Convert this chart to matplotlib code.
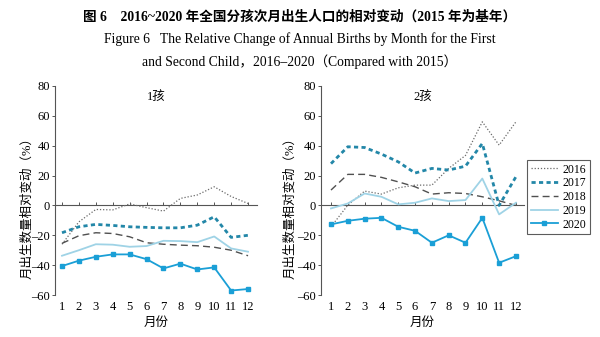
import matplotlib
matplotlib.use("Agg")
import matplotlib.pyplot as plt
from matplotlib.lines import Line2D

plt.rcParams['font.family'] = ['Liberation Serif', 'Noto Sans CJK SC', 'DejaVu Sans']

months = list(range(1, 13))
years = ['2016', '2017', '2018', '2019', '2020']

first_2016 = [-26, -11, -2.7, -3, 1, -1.5, -3.8, 4.7, 7, 12.5, 6, 1.3]
first_2017 = [-18.3, -14.3, -12.7, -13.4, -14.3, -14.7, -15, -15, -13.2, -7.6, -21.4, -20]
first_2018 = [-25.4, -20.3, -18.3, -18.8, -21, -25, -26, -26.6, -27, -28, -30, -33.7]
first_2019 = [-33.7, -30, -26, -26.3, -27.7, -27.2, -23.7, -23.9, -24.6, -20.8, -28.8, -31]
first_2020 = [-40.6, -37, -34.4, -32.8, -32.8, -36, -42.2, -39, -42.9, -41.5, -57, -56]

second_2016 = [-14.3, 0.2, 9.6, 7.6, 11.8, 13.6, 13.6, 24.8, 33.5, 56, 40.4, 56]
second_2017 = [28, 39.3, 38.8, 34.4, 29.2, 21.7, 24.8, 23.7, 26.3, 41.5, 0, 19.2]
second_2018 = [10.3, 20.8, 20.8, 18.8, 15.8, 12.5, 7.6, 8.5, 8, 5.8, 3.1, 0]
second_2019 = [-2, 1.3, 8, 5.8, 0.7, 1.8, 4.7, 2.9, 3.6, 18, -6, 1.8]
second_2020 = [-12.7, -10.3, -8.9, -8.3, -14.3, -17, -25, -20, -25, -8.3, -38.4, -34]

first_series = [first_2016, first_2017, first_2018, first_2019, first_2020]
second_series = [second_2016, second_2017, second_2018, second_2019, second_2020]

yticks = [-60, -40, -20, 0, 20, 40, 60, 80]
ytick_labels = ['\u201360', '\u201340', '\u201320', '0', '20', '40', '60', '80']

styles = [
    dict(color='#6a6a6a', lw=0.9, ls=(0, (1, 1.5))),
    dict(color='#2387a8', lw=2.0, ls=(0, (1.5, 1.2))),
    dict(color='#505050', lw=1.0, ls=(0, (5, 3))),
    dict(color='#9fd3e6', lw=1.3, ls='-'),
    dict(color='#1a9fd6', lw=1.3, ls='-', marker='s', ms=3.5),
]

fig = plt.figure(figsize=(6, 3.37), dpi=100)

fig.text(0.5, 1 - 17/337, '图 6　2016~2020 年全国分孩次月出生人口的相对变动（2015 年为基年）',
         ha='center', va='center', fontsize=9.8, fontweight='bold')
fig.text(0.5, 1 - 39/337, 'Figure 6   The Relative Change of Annual Births by Month for the First',
         ha='center', va='center', fontsize=9.8)
fig.text(0.5, 1 - 62/337, 'and Second Child，2016\u20132020（Compared with 2015）',
         ha='center', va='center', fontsize=9.8)

bottom = 1 - 295/337
height = (295 - 86)/337

panels = [
    ((55/600, bottom, (257-55)/600, height), (0.586, 12.53), first_series, '1孩', 27),
    ((321/600, bottom, (524-321)/600, height), (0.405, 12.48), second_series, '2孩', 290),
]

for rect, xl, series, label, ylab_x in panels:
    ax = fig.add_axes(rect)
    for vals, st in zip(series, styles):
        ax.plot(months, vals, **st)
    ax.set_xlim(*xl)
    ax.set_ylim(-60, 80)
    ax.set_yticks(yticks)
    ax.set_yticklabels(ytick_labels)
    ax.set_xticks(months)
    ax.set_xticklabels([str(m) for m in months])
    for s in ['top', 'right', 'bottom']:
        ax.spines[s].set_visible(False)
    ax.spines['left'].set_color('#555555')
    ax.spines['left'].set_linewidth(0.8)
    ax.tick_params(axis='y', length=2.5, width=0.7, color='#555555', labelsize=9, pad=1)
    ax.tick_params(axis='x', length=0, labelsize=9, pad=4)
    sec = ax.secondary_xaxis(60/140)
    sec.set_xticks(months)
    sec.set_xticklabels([])
    sec.spines['bottom'].set_color('#555555')
    sec.spines['bottom'].set_linewidth(0.8)
    sec.tick_params(axis='x', direction='in', length=2.5, width=0.7, color='#555555')
    ax.text(0.5, 0.95, label, transform=ax.transAxes, ha='center', va='center', fontsize=9)
    ax.set_xlabel('月份', fontsize=9, labelpad=3)
    fig.text(ylab_x/600, 1 - 205/337, '月出生数量相对变动（%）', rotation=90,
             ha='center', va='center', fontsize=9)

handles = [Line2D([], [], **st) for st in styles]
leg = fig.legend(handles, years, loc='upper left', bbox_to_anchor=(527/600, 1 - 160/337),
                 frameon=True, fancybox=False, fontsize=8.5, handlelength=2.3,
                 handletextpad=0.4, borderpad=0.3, labelspacing=0.15, borderaxespad=0)
leg.get_frame().set_edgecolor('#333333')
leg.get_frame().set_linewidth(0.8)

fig.savefig('out.png', dpi=100)
